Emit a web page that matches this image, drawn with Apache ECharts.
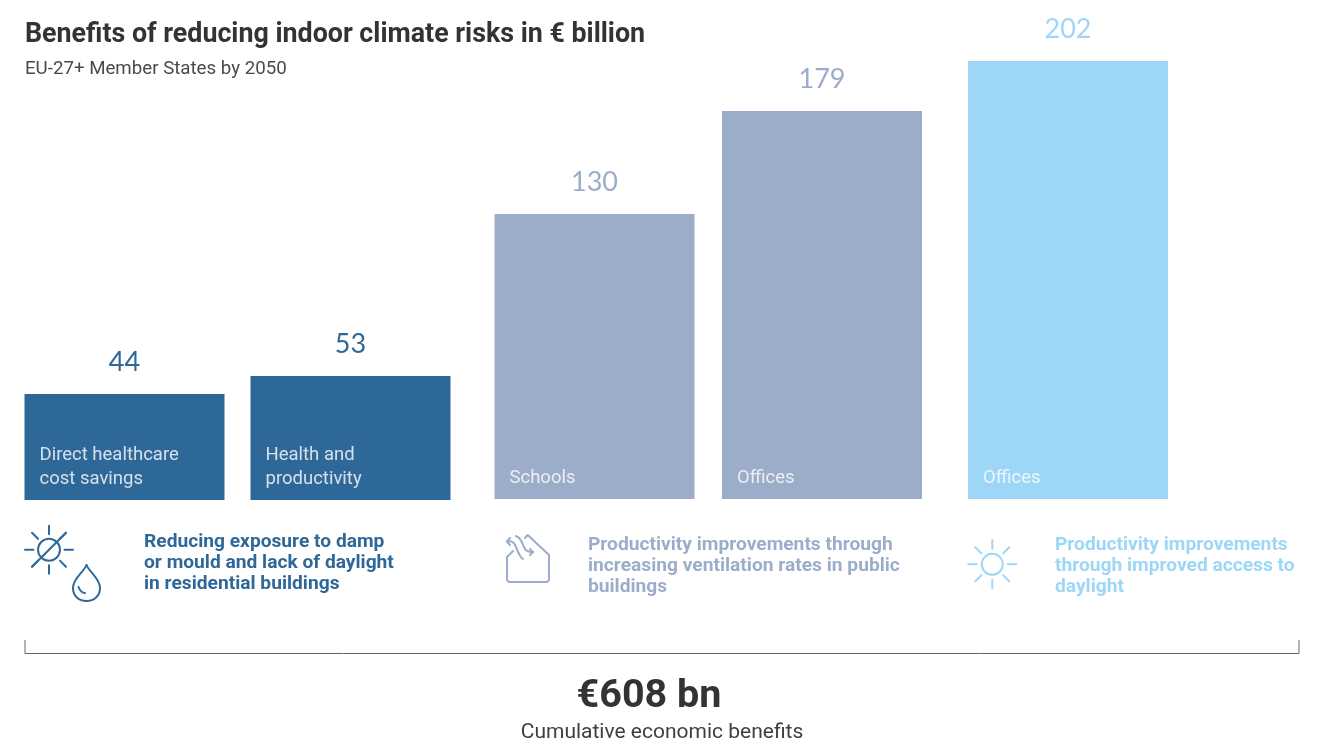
<!DOCTYPE html>
<html><head><meta charset="utf-8">
<style>html,body{margin:0;padding:0;background:#fff}#c{width:1328px;height:742px}</style>
<script src="https://cdn.jsdelivr.net/npm/echarts@6/dist/echarts.min.js"></script>
</head><body><div id="c"></div>
<script>
const barCats = ['Direct healthcare\ncost savings', 'Health and\nproductivity', 'Schools', 'Offices', 'Offices'];
const barVals = [44, 53, 130, 179, 202];
const groupTexts = [
  'Reducing exposure to damp\nor mould and lack of daylight\nin residential buildings',
  'Productivity improvements through\nincreasing ventilation rates in public\nbuildings',
  'Productivity improvements\nthrough improved access to\ndaylight'
];
const titleText = 'Benefits of reducing indoor climate risks in € billion';
const subtitleText = 'EU-27+ Member States by 2050';
const totalText = '€608 bn';
const totalCaption = 'Cumulative economic benefits';

const DARK='#2e6898', MID='#9cadca', LIGHT='#9dd6f6', INK='#333333';
const BODY='Roboto,sans-serif';
const NUM='Lato,sans-serif';

// The reference's bars are not drawn to one common scale, so each bar has its own hidden axis.
const panels = [
  {color:DARK, center:124.5, bottom:500, barPx:106},
  {color:DARK, center:350.5, bottom:500, barPx:124},
  {color:MID,  center:594.5, bottom:499, barPx:285},
  {color:MID,  center:822,   bottom:499, barPx:388},
  {color:LIGHT,center:1068,  bottom:499, barPx:438}
];
const TOP=20, W=226;
const grid=[],xAxis=[],yAxis=[],series=[];
panels.forEach((p,i)=>{
  const h=p.bottom-TOP;
  const value=barVals[i];
  grid.push({left:p.center-W/2,width:W,top:TOP,height:h});
  xAxis.push({type:'category',gridIndex:i,data:[barCats[i]],show:false});
  yAxis.push({type:'value',gridIndex:i,min:0,max:h*value/p.barPx,show:false});
  series.push({type:'bar',xAxisIndex:i,yAxisIndex:i,data:[value],barWidth:200,barGap:'-100%',silent:true,
    itemStyle:{color:p.color},
    label:{show:true,position:'top',distance:18,color:p.color,fontFamily:NUM,fontSize:27}});
  series.push({type:'bar',xAxisIndex:i,yAxisIndex:i,data:[value],barWidth:200,barGap:'-100%',silent:true,
    itemStyle:{color:'rgba(0,0,0,0)'},
    label:{show:true,position:'insideBottomLeft',distance:9,padding:[0,0,0,6],color:'rgba(255,255,255,0.8)',
      fontFamily:BODY,fontSize:18.5,lineHeight:24,
      formatter:()=>barCats[i]}});
});
const txt=(x,y,text,font,fill,extra)=>({type:'text',x,y,style:Object.assign({text,font,fill,textVerticalAlign:'middle'},extra||{})});
const stroke=(c,w)=>({stroke:c,lineWidth:w||2,fill:'none',lineCap:'round',lineJoin:'round'});
const curve=(p,c)=>({type:'bezierCurve',shape:{x1:p[0],y1:p[1],cpx1:p[2],cpy1:p[3],cpx2:p[4],cpy2:p[5],x2:p[6],y2:p[7]},style:stroke(c)});
const poly=(pts,c)=>({type:'polyline',shape:{points:pts},style:stroke(c)});
function sun(cx,cy,r,c,crossed){
  const out=[{type:'circle',shape:{cx,cy,r},style:stroke(c)}];
  for(let k=0;k<8;k++){
    const a=k*Math.PI/4;
    out.push({type:'line',shape:{x1:cx+15.5*Math.cos(a),y1:cy+15.5*Math.sin(a),x2:cx+24*Math.cos(a),y2:cy+24*Math.sin(a)},style:stroke(c)});
  }
  if(crossed) out.push({type:'line',shape:{x1:cx-17,y1:cy+17,x2:cx+17,y2:cy-17},style:stroke(c)});
  return out;
}
const elements=[
  txt(25,35,titleText,'bold 26.8px '+BODY,INK),
  txt(25,69,subtitleText,'18.7px '+BODY,'#4a4a4a'),
  txt(144,563,groupTexts[0],'bold 19.2px '+BODY,DARK,{lineHeight:21}),
  txt(588,566,groupTexts[1],'bold 19.2px '+BODY,MID,{lineHeight:21}),
  txt(1055,566,groupTexts[2],'bold 19.2px '+BODY,LIGHT,{lineHeight:21}),
  txt(649,697,totalText,'bold 39.5px '+BODY,INK,{textAlign:'center'}),
  txt(662,733,totalCaption,'21px '+BODY,'#3f3f3f',{textAlign:'center'}),
  {type:'polyline',shape:{points:[[25,640],[25,653.5],[1299,653.5],[1299,640]]},style:{stroke:'#666',lineWidth:1,fill:'none'}},
  ...sun(49,549.7,11,DARK,true),
  curve([86.5,565,84,572,73,578,73,588],DARK),
  curve([73,588,73,596,79,601,86.5,601],DARK),
  curve([86.5,601,94,601,100,596,100,588],DARK),
  curve([100,588,100,578,89,572,86.5,565],DARK),
  curve([78.5,587,80,591,83,593,85,593],DARK),
  // house outline
  poly([[525,538],[527.7,535],[549,555],[549,580],[547,582],[509,582],[507,580],[507,557],[513,551]],MID),
  // ventilation arrows
  curve([507,541.5,518,539,515,553,523,559],MID),
  poly([[510,538],[507,541.5],[510,545]],MID),
  curve([516,536,526,540,520,553,533,552],MID),
  poly([[530,549],[533,552],[530,555]],MID),
  ...sun(992.3,564.3,10.5,LIGHT,false)
];
const chart=echarts.init(document.getElementById('c'),null,{renderer:'canvas'});
chart.setOption({animation:false,backgroundColor:'#fff',grid,xAxis,yAxis,series,graphic:{elements}});
</script></body></html>
